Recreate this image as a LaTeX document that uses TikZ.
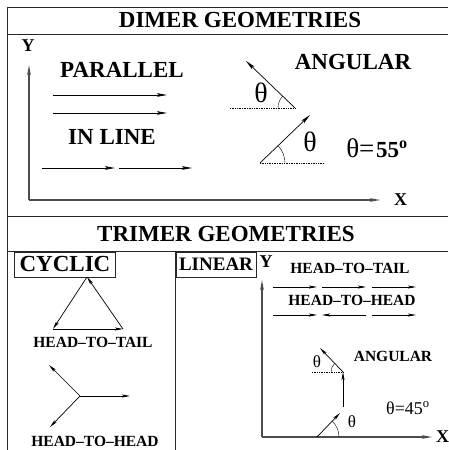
\documentclass[tikz,border=0pt]{standalone}
\usepackage{fontspec}
\setmainfont{Liberation Serif}
\usetikzlibrary{arrows.meta, positioning}

\begin{document}
\begin{tikzpicture}[x=1pt, y=1pt,
  frame/.style={line width=0.9pt, black!85},
  axis/.style={-{Stealth[length=10pt,width=3.6pt,inset=2pt]}, line width=1.1pt, black!70},
  vec/.style={-{Stealth[length=10pt,width=3.6pt,inset=2pt]}, line width=0.7pt},
  svec/.style={-{Stealth[length=8pt,width=3pt,inset=1.6pt]}, line width=0.7pt},
  refline/.style={densely dotted, line width=0.7pt},
  bighead/.style={font=\fontsize{23}{23}\selectfont\bfseries, inner sep=0pt},
  midhead/.style={font=\fontsize{19}{19}\selectfont\bfseries, inner sep=0pt},
  smallhead/.style={font=\fontsize{15.5}{15.5}\selectfont\bfseries, inner sep=0pt},
  axlabel/.style={font=\fontsize{18}{18}\selectfont\bfseries, inner sep=0pt},
  bigtheta/.style={font=\fontsize{28}{28}\selectfont, inner sep=0pt},
  smalltheta/.style={font=\fontsize{17}{17}\selectfont, inner sep=0pt}
]
\useasboundingbox (0,0) rectangle (448,450);

% frame
\draw[frame] (7,0) -- (7,443) -- (448,443);
\draw[frame] (7,416) -- (448,416);
\draw[frame] (7,234) -- (448,234);
\draw[frame] (7,199) -- (448,199);
\draw[frame] (175,199) -- (175,0);

% dimers
\node[bighead] (dimer) at (240,430) {DIMER GEOMETRIES};
\coordinate (o1) at (29,250);
\coordinate (y1) at (29,385);
\coordinate (x1) at (380,250);
\draw[axis] (o1) -- (y1);
\draw[axis] (o1) -- (x1);
\node[axlabel] (ylab1) at (28,404) {Y};
\node[axlabel, right=14pt of x1] (xlab1) {X};

\node[bighead] (parallel) at (122,380) {PARALLEL};
\coordinate (pa1) at (53,355); \coordinate (pa2) at (167,355);
\coordinate (pb1) at (53,337); \coordinate (pb2) at (167,337);
\draw[vec] (pa1) -- (pa2);
\draw[vec] (pb1) -- (pb2);

\node[bighead] (inline) at (112,313) {IN LINE};
\coordinate (ia1) at (42,282); \coordinate (ia2) at (115,282);
\coordinate (ib1) at (119,282); \coordinate (ib2) at (192,282);
\draw[vec] (ia1) -- (ia2);
\draw[vec] (ib1) -- (ib2);

\node[bighead] (angular1) at (353,388) {ANGULAR};
\coordinate (uv) at (295,342); \coordinate (ut) at (246,389);
\coordinate (ud) at (230,342);
\draw[vec] (uv) -- (ut);
\draw[refline] (ud) -- (uv);
\draw ([shift={(136:17)}]uv) arc[start angle=136, end angle=180, radius=17];
\node[bigtheta] (uth) at (261,357) {θ};

\coordinate (lv) at (260,287); \coordinate (lt) at (310,335);
\coordinate (ld) at (323,287);
\draw[vec] (lv) -- (lt);
\draw[refline] (lv) -- (ld);
\draw ([shift={(0:25)}]lv) arc[start angle=0, end angle=44, radius=25];
\node[bigtheta] (lth) at (310,308) {θ};
\node[inner sep=0pt] (ang1) at (377,302)
  {{\fontsize{27}{27}\selectfont θ=}\,{\fontsize{23}{23}\selectfont\bfseries 55\textsuperscript{o}}};

% trimers
\node[bighead] (trimer) at (226,216) {TRIMER GEOMETRIES};
\draw[frame] (14,173) rectangle (115,198);
\node[bighead] (cyclic) at (65,186) {CYCLIC};
\draw[frame] (176,173) rectangle (256,198);
\node[midhead] (linear) at (216,186) {LINEAR};

% cyclic
\coordinate (ct) at (87,173); \coordinate (cl) at (53,121); \coordinate (cr) at (123,121);
\draw[svec] (ct) -- (cl);
\draw[svec] (cl) -- (cr);
\draw[svec] (cr) -- (ct);
\node[smallhead] (htt1) at (93,108) {HEAD--TO--TAIL};
\coordinate (yc) at (80,54);
\coordinate (yul) at (49,85); \coordinate (yr) at (130,54); \coordinate (yll) at (50,23);
\draw[svec] (yc) -- (yul);
\draw[svec] (yc) -- (yr);
\draw[svec] (yc) -- (yll);
\node[smallhead] (hth1) at (95,8.5) {HEAD--TO--HEAD};

% linear
\coordinate (o2) at (262,13);
\coordinate (y2) at (262,170);
\coordinate (x2) at (432,13);
\draw[axis] (o2) -- (y2);
\draw[axis] (o2) -- (x2);
\node[axlabel] (ylab2) at (266,188) {Y};
\node[axlabel, right=4pt of x2] (xlab2) {X};

\node[smallhead] (htt2) at (350,182) {HEAD--TO--TAIL};
\foreach \a/\b [count=\i] in {273/317, 322/366, 372/416}
  \draw[svec] (\a,163) -- (\b,163);
\node[smallhead] (hth2) at (352,150) {HEAD--TO--HEAD};
\draw[svec] (273,135) -- (317,135);
\draw[svec] (366,135) -- (322,135);
\draw[svec] (372,135) -- (416,135);

\coordinate (av) at (317,13); \coordinate (at) at (340,37);
\draw[svec] (av) -- (at);
\draw ([shift={(0:22)}]av) arc[start angle=0, end angle=46, radius=22];
\node[smalltheta] (ath) at (352,28) {θ};
\coordinate (bv) at (343,43); \coordinate (bt) at (343,78);
\draw[svec] (bv) -- (bt);
\coordinate (bd) at (312,78); \coordinate (ct2) at (320,102);
\draw[refline] (bd) -- (bt);
\draw[svec] (bt) -- (ct2);
\draw ([shift={(134:12)}]bt) arc[start angle=134, end angle=180, radius=12];
\node[smalltheta] (bth) at (317,88) {θ};
\node[smallhead] (angular2) at (393,94) {ANGULAR};
\node[inner sep=0pt, font=\fontsize{18}{18}\selectfont] (ang2) at (408,42) {θ=45\textsuperscript{o}};
\end{tikzpicture}
\end{document}
